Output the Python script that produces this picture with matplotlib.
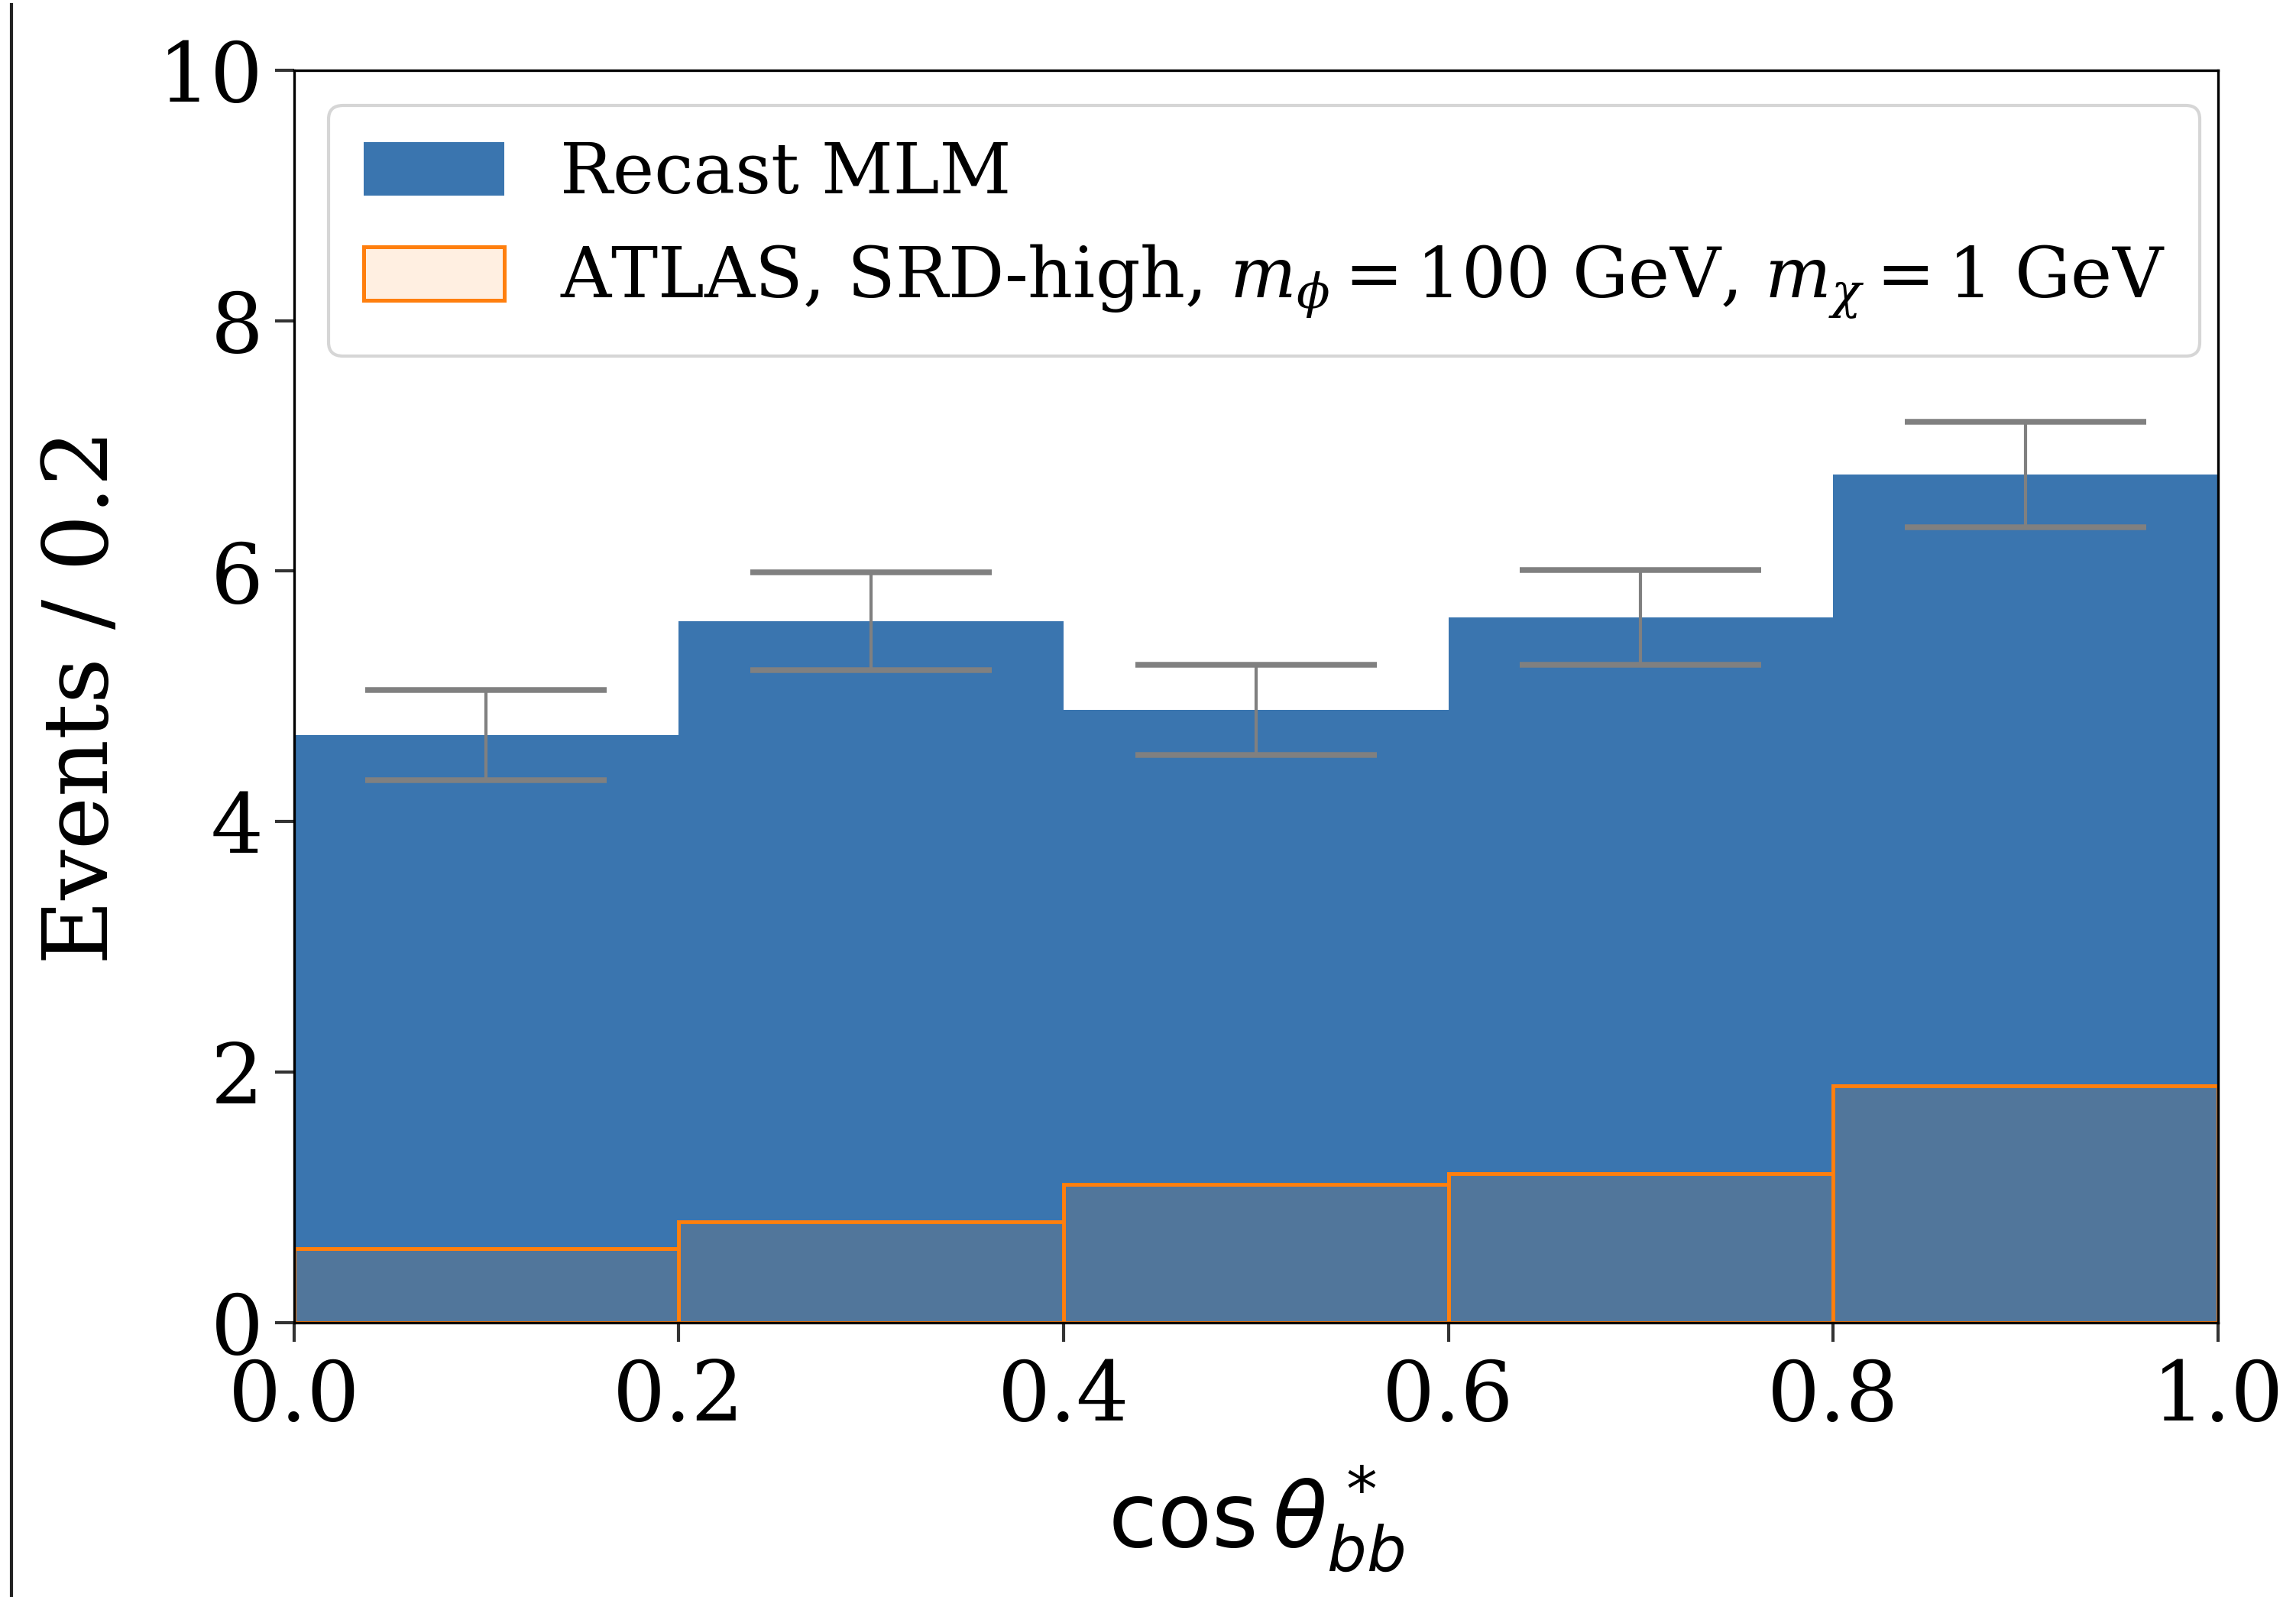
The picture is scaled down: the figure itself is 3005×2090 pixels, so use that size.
import numpy as np
import matplotlib
matplotlib.use("Agg")
import matplotlib.pyplot as plt
from matplotlib.lines import Line2D

plt.rcParams['font.family'] = 'DejaVu Serif'
plt.rcParams['mathtext.fontset'] = 'dejavuserif'

# bin edges in cos theta*
edges = np.array([0.0, 0.2, 0.4, 0.6, 0.8, 1.0])

# Recast MLM events per bin and stat. errors
recast = [4.69, 5.60, 4.89, 5.63, 6.77]
recast_err = [0.36, 0.39, 0.36, 0.38, 0.42]

# ATLAS SRD-high reference
atlas = [0.59, 0.80, 1.10, 1.19, 1.89]

blue = '#3a75af'
orange = '#ff7f0e'

fig = plt.figure(figsize=(3005 / 300, 2090 / 300), dpi=300)
ax = fig.add_axes([0.128, 0.172, 0.838, 0.784])

centers = 0.5 * (edges[:-1] + edges[1:])
widths = np.diff(edges)

ax.bar(edges[:-1], recast, width=widths, align='edge', color=blue,
       linewidth=0, label='Recast MLM')
ax.errorbar(centers, recast, yerr=recast_err, fmt='none', ecolor='grey',
            elinewidth=1.0, capsize=38, capthick=1.8)
ax.bar(edges[:-1], atlas, width=widths, align='edge',
       facecolor=(1.0, 0.498, 0.055, 0.12), edgecolor=orange, linewidth=1.2,
       label=r'ATLAS, SRD-high, $m_\phi = 100$ GeV, $m_\chi = 1$ GeV')

ax.set_xlim(0, 1)
ax.set_ylim(0, 10)
ax.set_xticks([0.0, 0.2, 0.4, 0.6, 0.8, 1.0])
ax.set_yticks([0, 2, 4, 6, 8, 10])
ax.tick_params(labelsize=26, length=6, width=1, color='#333333')
ax.tick_params(axis='x', pad=5)

ax.set_ylabel('Events / 0.2', fontsize=28, labelpad=10)
ax.set_xlabel(r'$\cos\theta^*_{bb}$', fontsize=28, math_fontfamily='dejavusans',
              labelpad=8)

ax.legend(loc='upper left', fontsize=22, handlelength=2.0, handleheight=0.8,
          borderpad=0.5, labelspacing=0.5)

# stray border line on the left of the screenshot
fig.add_artist(Line2D([0.005, 0.005], [0.0, 0.997], color='#222222', lw=1.0))

fig.savefig('out.png', dpi=300)
